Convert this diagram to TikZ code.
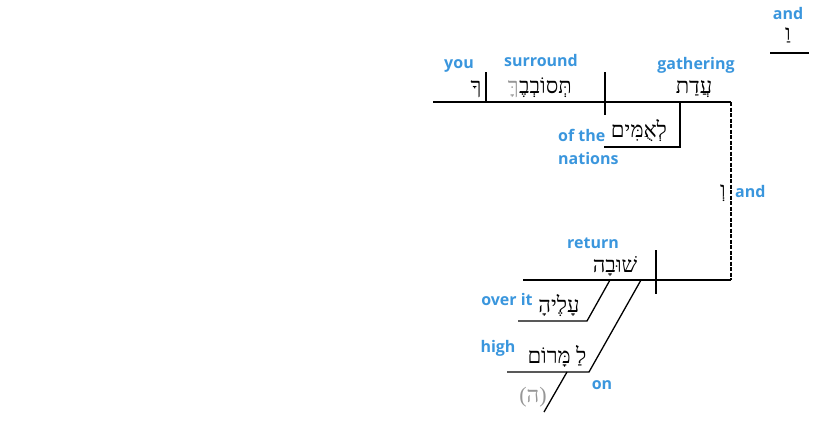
\documentclass[tikz,border=0pt]{standalone}
\usepackage{fontspec}
\setmainfont{Open Sans}
\newfontfamily\hebfont[Script=Hebrew]{Liberation Serif}
\TeXXeTstate=1
\usetikzlibrary{calc}
\definecolor{glossblue}{RGB}{58,150,221}
\definecolor{ghost}{RGB}{150,150,150}
\newcommand{\gloss}[4]{\node[gloss] (#1) at ( #2 , #3 ) {#4};}
\newcommand{\hword}[4]{\node[hword] (#1) at ( #2 , #3 ) {\hebfont\beginR #4\endR};}
\tikzset{
  gloss/.style={anchor=base, inner sep=0pt, text=glossblue, font=\bfseries\fontsize{16}{19}\selectfont},
  hword/.style={anchor=base, inner sep=0pt, font=\fontsize{22}{26}\selectfont},
  rule/.style={line width=1.3pt},
  joiner/.style={line width=1.3pt, dash pattern=on 4pt off 1.5pt}
}

\begin{document}
\begin{tikzpicture}[x=1pt,y=-1pt]
\useasboundingbox (0,0) rectangle (825,424);
% clause 1 base line
\coordinate (topL) at (433,102);
\coordinate (topR) at (731,102);
\draw[rule] (topL) -- (topR);
\draw[rule] (486,72) coordinate (objT) -- (486,102) coordinate (objB);
\draw[rule] (605,72) coordinate (verbT) -- (605,115) coordinate (verbB);
% of the nations
\coordinate (modA) at (680,102);
\coordinate (modB) at (680,147);
\coordinate (modC) at (604,147);
\draw[rule] (modA) -- (modB) -- (modC);
% joining and
\coordinate (botR) at (731,280);
\draw[joiner] (topR) -- (botR);
% clause 2 base line
\coordinate (botL) at (523,280);
\draw[rule] (botL) -- (botR);
\draw[rule] (656,250) coordinate (impT) -- (656,294) coordinate (impB);
% over it
\coordinate (ovA) at (610,280);
\coordinate (ovB) at (587,321);
\coordinate (ovC) at (518,321);
\draw[rule] (ovA) -- (ovB) -- (ovC);
% on high
\coordinate (hiA) at (641,280);
\coordinate (hiB) at (589,372);
\coordinate (hiC) at (507,372);
\draw[rule] (hiA) -- (hiB) -- (hiC);
\coordinate (artA) at (567,372);
\coordinate (artB) at (544,412);
\draw[rule] (artA) -- (artB);
% leading and
\coordinate (cjL) at (770,53);
\coordinate (cjR) at (809,53);
\draw[rule] (cjL) -- (cjR);
% hebrew words
\hword{wYou}{476}{93}{ךָ}
\node[hword, anchor=base east] (wSurround) at (572,93) {\hebfont\beginR תְּסוֹבְבֶ\endR};
\node[hword, anchor=base east, text=ghost] (wSuffix) at (wSurround.base west) {\hebfont\beginR ךָּ\endR};
\hword{wGathering}{694}{93}{עֲדַת}
\hword{wNations}{639}{137}{לְאֻמִּים}
\hword{wAndMid}{723}{197}{וְ}
\hword{wAndTop}{788}{40}{וַ}
\hword{wReturn}{615}{272}{שׁוּבָה}
\hword{wOverIt}{559}{312}{עָלֶיהָ}
\node[hword] (wHigh) at (557,363) {\hebfont\beginR לַ מָּרוֹם\endR};
\node[hword, text=ghost] (wArt) at (533,402) {\hebfont (ה)};
% glosses
\gloss{gYou}{459}{68}{you}
\gloss{gSurround}{541}{66}{surround}
\gloss{gGathering}{696}{69}{gathering}
\gloss{gAndTop}{788}{19}{and}
\node[gloss, anchor=base west] (gOfThe) at (558,141) {of the};
\node[gloss, anchor=base west] (gNations) at (558,164) {nations};
\node[gloss, anchor=base west] (gAndMid) at (735,197) {and};
\gloss{gReturn}{593}{248}{return}
\gloss{gOverIt}{507}{305}{over it}
\gloss{gHigh}{498}{352}{high}
\gloss{gOn}{602}{389}{on}
\end{tikzpicture}
\end{document}
